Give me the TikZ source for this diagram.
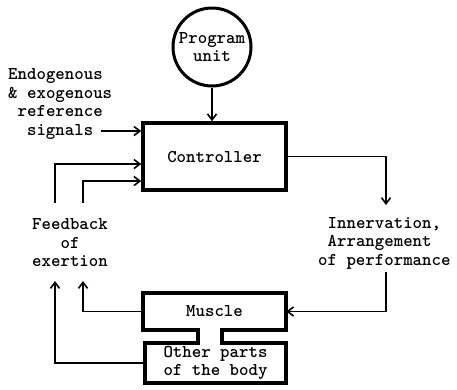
\documentclass[tikz,border=0pt]{standalone}
\usepackage{fontspec}
\usetikzlibrary{calc,positioning,arrows.meta}
\tikzset{
  thickbox/.style={draw,line width=3.5pt,minimum width=143pt,inner sep=0pt,align=center},
  plainbox/.style={inner sep=0pt,align=center},
  labeltext/.style={inner sep=0pt},
  flow/.style={line width=1.6pt,-{Straight Barb[length=6pt,width=9pt]}},
}

\begin{document}
\begin{tikzpicture}[x=1pt,y=-1pt,font=\ttfamily\bfseries\fontsize{18}{18.5}\selectfont]
  \useasboundingbox (0,0) rectangle (457,389);

  % blocks
  \node[circle,draw,line width=3pt,minimum size=78pt,inner sep=0pt,align=center] (prog) at (212,47) {Program\\unit};
  \node[thickbox,minimum height=67pt] (ctrl) at (214.5,156.5) {Controller};
  \node[plainbox,minimum width=143pt,minimum height=37pt] (muscle) at (214.5,311.5) {Muscle};
  \node[plainbox,minimum width=141pt,minimum height=40pt] (other) at (215.5,363) {Other parts\\of the body};

  % muscle and body joined by a neck
  \coordinate (neckL) at (198,0);
  \coordinate (neckR) at (222,0);
  \draw[line width=3.5pt,line join=miter]
    (muscle.north west) -- (muscle.north east) -- (muscle.south east)
    -- (neckR |- muscle.south) -- (neckR |- other.north)
    -- (other.north east) -- (other.south east) -- (other.south west)
    -- (other.north west) -- (neckL |- other.north)
    -- (neckL |- muscle.south) -- (muscle.south west) -- cycle;

  % labels
  \node[labeltext,anchor=west,align=left] (refsig) at (8,104)
    {Endogenous\\\& exogenous\\\phantom{x}reference\\\phantom{xx}signals};
  \node[labeltext,align=center] (fb) at (70,243) {Feedback\\of\\exertion};
  \node[labeltext,anchor=west,align=left] (inn) at (318,243)
    {\phantom{x}Innervation,\\\phantom{x}Arrangement\\of performance};

  % free ends
  \coordinate (sigend) at (101,131);
  \coordinate (fbtopL) at (55,203);
  \coordinate (fbtopR) at (83,203);
  \coordinate (fbbotL) at (55,281);
  \coordinate (fbbotR) at (83,281);
  \coordinate (inntop) at (386,205);
  \coordinate (innbot) at (386,272);

  % connectors
  \draw[flow] (prog.south) -- (prog.south |- ctrl.north);
  \draw[flow] (sigend) -- ([yshift=25.5pt]ctrl.west);
  \draw[flow] (fbtopL) |- ([yshift=-7.5pt]ctrl.west);
  \draw[flow] (fbtopR) |- ([yshift=-24.5pt]ctrl.west);
  \draw[flow] (ctrl.east) -| (inntop);
  \draw[flow] (innbot) |- (muscle.east);
  \draw[flow] (muscle.west) -| (fbbotR);
  \draw[flow] (other.west) -| (fbbotL);
\end{tikzpicture}
\end{document}
